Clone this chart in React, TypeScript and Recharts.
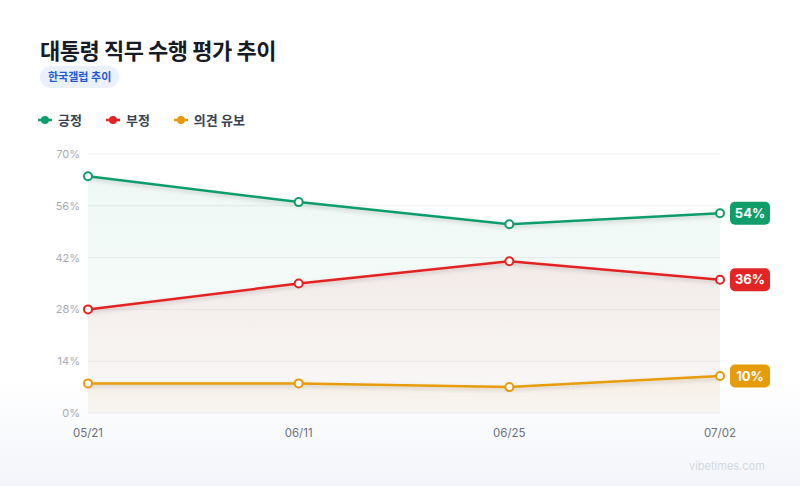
import React from 'react';
import {
  ComposedChart, Line, Area, XAxis, YAxis, CartesianGrid, LabelList,
} from 'recharts';

const dates = ['05/21', '06/11', '06/25', '07/02'];
const approve = [64, 57, 51, 54];
const disapprove = [28, 35, 41, 36];
const undecided = [8, 8, 7, 10];
const yTicks = [0, 14, 28, 42, 56, 70];

const series = [
  { key: 'approve', name: '긍정', color: '#0f9d6a', values: approve },
  { key: 'disapprove', name: '부정', color: '#e32424', values: disapprove },
  { key: 'undecided', name: '의견 유보', color: '#e69c0a', values: undecided },
];

const data = dates.map((date, i) => ({
  date,
  approve: approve[i],
  disapprove: disapprove[i],
  undecided: undecided[i],
}));

const FONT = "Inter, 'Noto Sans CJK KR', 'Noto Sans', sans-serif";

// value badge drawn to the right of the last point of each line
const EndBadge = (color: string) => (props: any) => {
  const { x, y, value, index } = props;
  if (index !== dates.length - 1) return null;
  const w = 40;
  const h = 23;
  return (
    <g>
      <rect x={x + 10} y={y - h / 2} width={w} height={h} rx={5} fill={color} />
      <text
        x={x + 10 + w / 2}
        y={y + 1}
        textAnchor="middle"
        dominantBaseline="middle"
        fill="#fff"
        fontSize={13}
        fontWeight={700}
        fontFamily={FONT}
      >
        {value}%
      </text>
    </g>
  );
};

export default function App() {
  return (
    <div
      style={{
        position: 'absolute',
        left: 0,
        top: 0,
        width: 800,
        height: 486,
        overflow: 'hidden',
        fontFamily: FONT,
        background: 'linear-gradient(to bottom, #ffffff 78%, #f3f5fa 100%)',
      }}
    >
      <div style={{ position: 'absolute', left: 40, top: 33, fontSize: 22, fontWeight: 700, color: '#161b26', letterSpacing: -0.5 }}>
        대통령 직무 수행 평가 추이
      </div>
      <div
        style={{
          position: 'absolute', left: 40, top: 66, height: 22, padding: '0 8px',
          borderRadius: 11, background: '#eaf0fc', color: '#1f5ad6',
          fontSize: 11, fontWeight: 700, lineHeight: '22px',
        }}
      >
        한국갤럽 추이
      </div>
      <div style={{ position: 'absolute', left: 38, top: 110, display: 'flex', gap: 24 }}>
        {series.map((s) => (
          <div key={s.key} style={{ display: 'flex', alignItems: 'center', fontSize: 13, fontWeight: 600, color: '#374151' }}>
            <svg width={14} height={10} style={{ marginRight: 6 }}>
              <line x1={0} y1={5} x2={14} y2={5} stroke={s.color} strokeWidth={2.5} />
              <circle cx={7} cy={5} r={4} fill={s.color} />
            </svg>
            {s.name}
          </div>
        ))}
      </div>
      <div style={{ position: 'absolute', left: 689, top: 459, fontSize: 11, color: '#d3d7e0' }}>
        vibetimes.com
      </div>
      <div style={{ position: 'absolute', left: 0, top: 0 }}>
        <ComposedChart
          width={800}
          height={486}
          data={data}
          margin={{ top: 154, right: 80, bottom: 43, left: 40 }}
        >
          <defs>
            {series.map((s) => (
              <linearGradient key={s.key} id={`fill-${s.key}`} x1="0" y1="0" x2="0" y2="1">
                <stop offset="0%" stopColor={s.color} stopOpacity={0.12} />
                <stop offset="100%" stopColor={s.color} stopOpacity={0.03} />
              </linearGradient>
            ))}
            <filter id="glow" x="-5%" y="-50%" width="110%" height="200%">
              <feDropShadow dx="0" dy="2" stdDeviation="2" floodOpacity="0.18" />
            </filter>
          </defs>
          <CartesianGrid vertical={false} stroke="#eef0f3" />
          <XAxis
            dataKey="date"
            axisLine={false}
            tickLine={false}
            height={30}
            tick={{ fill: '#6b7280', fontSize: 11.5, fontFamily: FONT }}
            tickMargin={10}
          />
          <YAxis
            domain={[0, 70]}
            ticks={yTicks}
            width={48}
            axisLine={false}
            tickLine={false}
            tickFormatter={(v) => `${v}%`}
            tick={{ fill: '#a7acb5', fontSize: 11, fontFamily: FONT }}
            tickMargin={2}
          />
          {series.map((s) => (
            <Area
              key={`a-${s.key}`}
              type="linear"
              dataKey={s.key}
              stroke="none"
              fill={`url(#fill-${s.key})`}
              isAnimationActive={false}
              activeDot={false}
            />
          ))}
          {series.map((s) => (
            <Line
              key={`l-${s.key}`}
              type="linear"
              dataKey={s.key}
              name={s.name}
              stroke={s.color}
              strokeWidth={2.5}
              filter="url(#glow)"
              dot={{ r: 4, fill: '#fff', stroke: s.color, strokeWidth: 2, filter: 'none' }}
              isAnimationActive={false}
            >
              <LabelList dataKey={s.key} content={EndBadge(s.color)} />
            </Line>
          ))}
        </ComposedChart>
      </div>
    </div>
  );
}
